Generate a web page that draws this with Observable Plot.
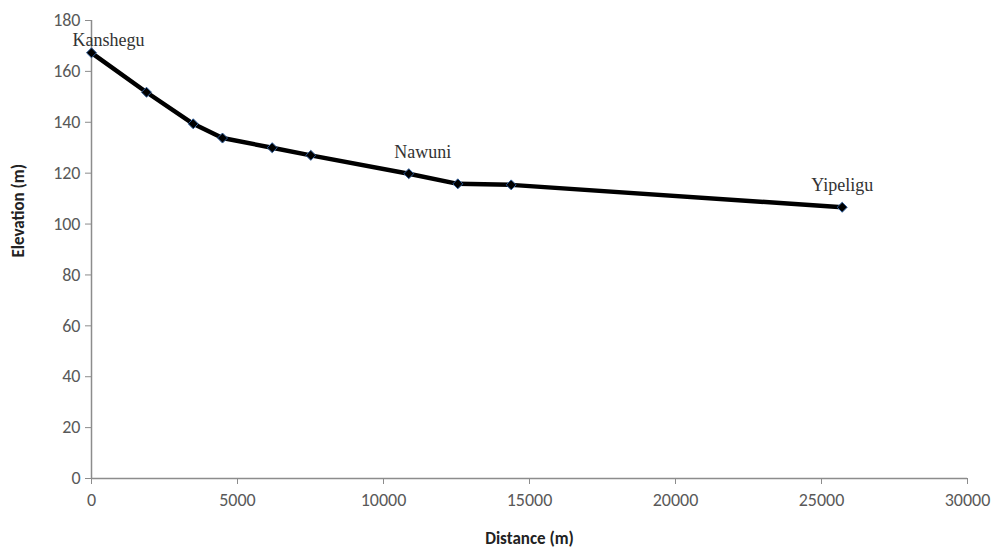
<!DOCTYPE html>
<html><head><meta charset="utf-8">
<script src="https://cdn.jsdelivr.net/npm/d3@7"></script>
<script src="https://cdn.jsdelivr.net/npm/@observablehq/plot@0.6"></script>
<style>
body{margin:0;background:#fff;}
#chart{width:1000px;height:556px;}
</style></head><body><div id="chart"></div>
<script>
const distance = [0, 1884, 3483, 4486, 6188, 7510, 10866, 12545, 14373, 25708];
const elevation = [167.3, 151.8, 139.4, 133.8, 130, 127, 119.8, 115.8, 115.4, 106.6];
const placeNames = ["Kanshegu", "Nawuni", "Yipeligu"];
const placeIndex = [0, 6, 9];
const xTicks = [0, 5000, 10000, 15000, 20000, 25000, 30000];
const yTicks = [0, 20, 40, 60, 80, 100, 120, 140, 160, 180];
const xTitle = "Distance (m)";
const yTitle = "Elevation (m)";

const data = distance.map((d, i) => ({distance: d, elevation: elevation[i]}));
const places = placeNames.map((n, i) => ({name: n, ...data[placeIndex[i]]}));

const tickFont = "Carlito, 'Liberation Sans Narrow', 'Liberation Sans', sans-serif";
const serif = "'Liberation Serif', 'DejaVu Serif', serif";
const axisGrey = "#8c8c8c";
const textGrey = "#595959";

const plot = Plot.plot({
  width: 1000, height: 556,
  marginLeft: 91, marginRight: 33, marginTop: 20, marginBottom: 78,
  style: {fontFamily: tickFont, background: "#fff", overflow: "visible"},
  x: {domain: [0, 30000]},
  y: {domain: [0, 180]},
  marks: [
    Plot.axisX({ticks: xTicks, tickSize: 6, tickPadding: 9, tickFormat: d => String(d), stroke: axisGrey, fill: textGrey, fontSize: 18, label: null}),
    Plot.axisY({ticks: yTicks, tickSize: 6, tickPadding: 5, tickFormat: d => String(d), stroke: axisGrey, fill: textGrey, fontSize: 18, label: null}),
    Plot.ruleY([0], {stroke: axisGrey, strokeWidth: 1.5}),
    Plot.ruleX([0], {stroke: axisGrey, strokeWidth: 1.5}),
    Plot.line(data, {x: "distance", y: "elevation", stroke: "black", strokeWidth: 4.5}),
    Plot.dot(data, {x: "distance", y: "elevation", symbol: "diamond2", r: 4.5, fill: "black", stroke: "#2f5d9a", strokeWidth: 1}),
    Plot.text(places.filter(p => p.name === "Kanshegu"), {x: "distance", y: "elevation", text: "name", dx: 17, dy: -13, fontFamily: serif, fontSize: 18, fill: "#333"}),
    Plot.text(places.filter(p => p.name === "Nawuni"), {x: "distance", y: "elevation", text: "name", dx: 14, dy: -21, fontFamily: serif, fontSize: 18, fill: "#333"}),
    Plot.text(places.filter(p => p.name === "Yipeligu"), {x: "distance", y: "elevation", text: "name", dx: 0, dy: -22, fontFamily: serif, fontSize: 18, fill: "#333"}),
    Plot.text([xTitle], {frameAnchor: "bottom", dy: 65, fontWeight: "bold", fontSize: 17, fill: "#222"}),
    Plot.text([yTitle], {frameAnchor: "left", rotate: -90, dx: -73, dy: 8, fontWeight: "bold", fontSize: 17, fill: "#222"})
  ]
});
document.getElementById("chart").append(plot);
</script></body></html>
